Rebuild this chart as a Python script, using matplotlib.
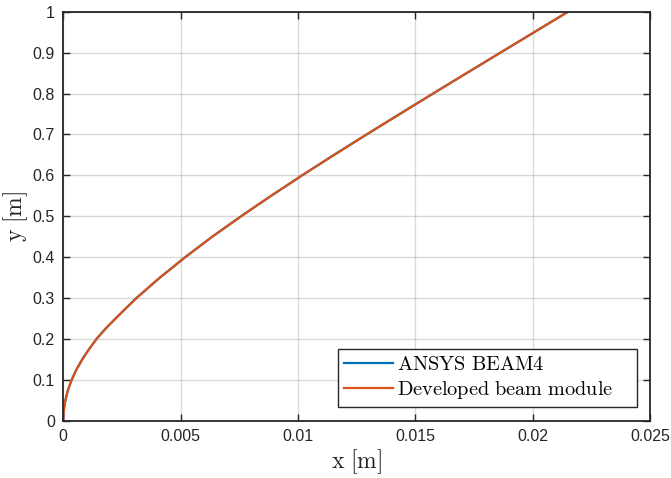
import matplotlib
matplotlib.use("Agg")
import matplotlib.pyplot as plt

# Data (deflection curve)
y_vals = [0.0, 0.025, 0.05, 0.075, 0.1, 0.125, 0.15, 0.175, 0.2, 0.225, 0.25, 0.275,
          0.3, 0.35, 0.4, 0.45, 0.5, 0.55, 0.6, 0.65, 0.7, 0.75, 0.8, 0.85, 0.9, 0.95, 1.0]
x_ansys = [0.0, 0.00002, 0.00009, 0.0002, 0.00036, 0.00056, 0.00081, 0.0011, 0.00142,
           0.0018, 0.00223, 0.00267, 0.00312, 0.00412, 0.0052, 0.00635, 0.00758,
           0.00886, 0.01018, 0.01154, 0.01293, 0.01434, 0.01576, 0.01719, 0.01863,
           0.02007, 0.02151]
x_dev = [0.0, 0.00002, 0.00009, 0.0002, 0.00036, 0.00056, 0.00081, 0.0011, 0.00142,
         0.0018, 0.00223, 0.00267, 0.00312, 0.00412, 0.0052, 0.00635, 0.00758,
         0.00886, 0.01018, 0.01154, 0.01293, 0.01434, 0.01576, 0.01719, 0.01863,
         0.02007, 0.02151]

xticks = [0, 0.005, 0.01, 0.015, 0.02, 0.025]
xticklabels = ["0", "0.005", "0.01", "0.015", "0.02", "0.025"]
yticks = [0, 0.1, 0.2, 0.3, 0.4, 0.5, 0.6, 0.7, 0.8, 0.9, 1]
yticklabels = ["0", "0.1", "0.2", "0.3", "0.4", "0.5", "0.6", "0.7", "0.8", "0.9", "1"]

plt.rcParams['font.family'] = ['Liberation Sans', 'DejaVu Sans']
plt.rcParams['mathtext.fontset'] = 'cm'

fig = plt.figure(figsize=(6.71, 4.78), dpi=100)
ax = fig.add_axes([0.0943, 0.1199, 0.8744, 0.8556])

ax.plot(x_ansys, y_vals, color='#0072BD', lw=1.6, label=r'$\mathrm{ANSYS\ BEAM4}$')
ax.plot(x_dev, y_vals, color='#D95319', lw=1.6,
        label=r'$\mathrm{Developed\ beam\ module}$' + '    ')

ax.set_xlim(0, 0.025)
ax.set_ylim(0, 1)
ax.set_xticks(xticks)
ax.set_xticklabels(xticklabels)
ax.set_yticks(yticks)
ax.set_yticklabels(yticklabels)
ax.tick_params(direction='in', top=True, right=True, labelsize=11.5, colors='#262626',
               length=5, width=1.0, pad=6)
ax.grid(True, color='#000000', alpha=0.15, lw=1.0)
for s in ax.spines.values():
    s.set_color('#262626')
    s.set_linewidth(1.3)

ax.set_xlabel(r'$\mathrm{x\ [m]}$', fontsize=17, color='#262626', labelpad=2)
ax.set_ylabel(r'$\mathrm{y\ [m]}$', fontsize=17, color='#262626', labelpad=2)

leg = ax.legend(loc='lower right', bbox_to_anchor=(0.978, 0.0335), fontsize=14.6,
                frameon=True, fancybox=False, framealpha=1, edgecolor='#262626',
                handlelength=2.42, borderpad=0.3, labelspacing=0.25, handletextpad=0.2,
                borderaxespad=0)
leg.get_frame().set_linewidth(1.0)

fig.savefig('out.png', dpi=100)
